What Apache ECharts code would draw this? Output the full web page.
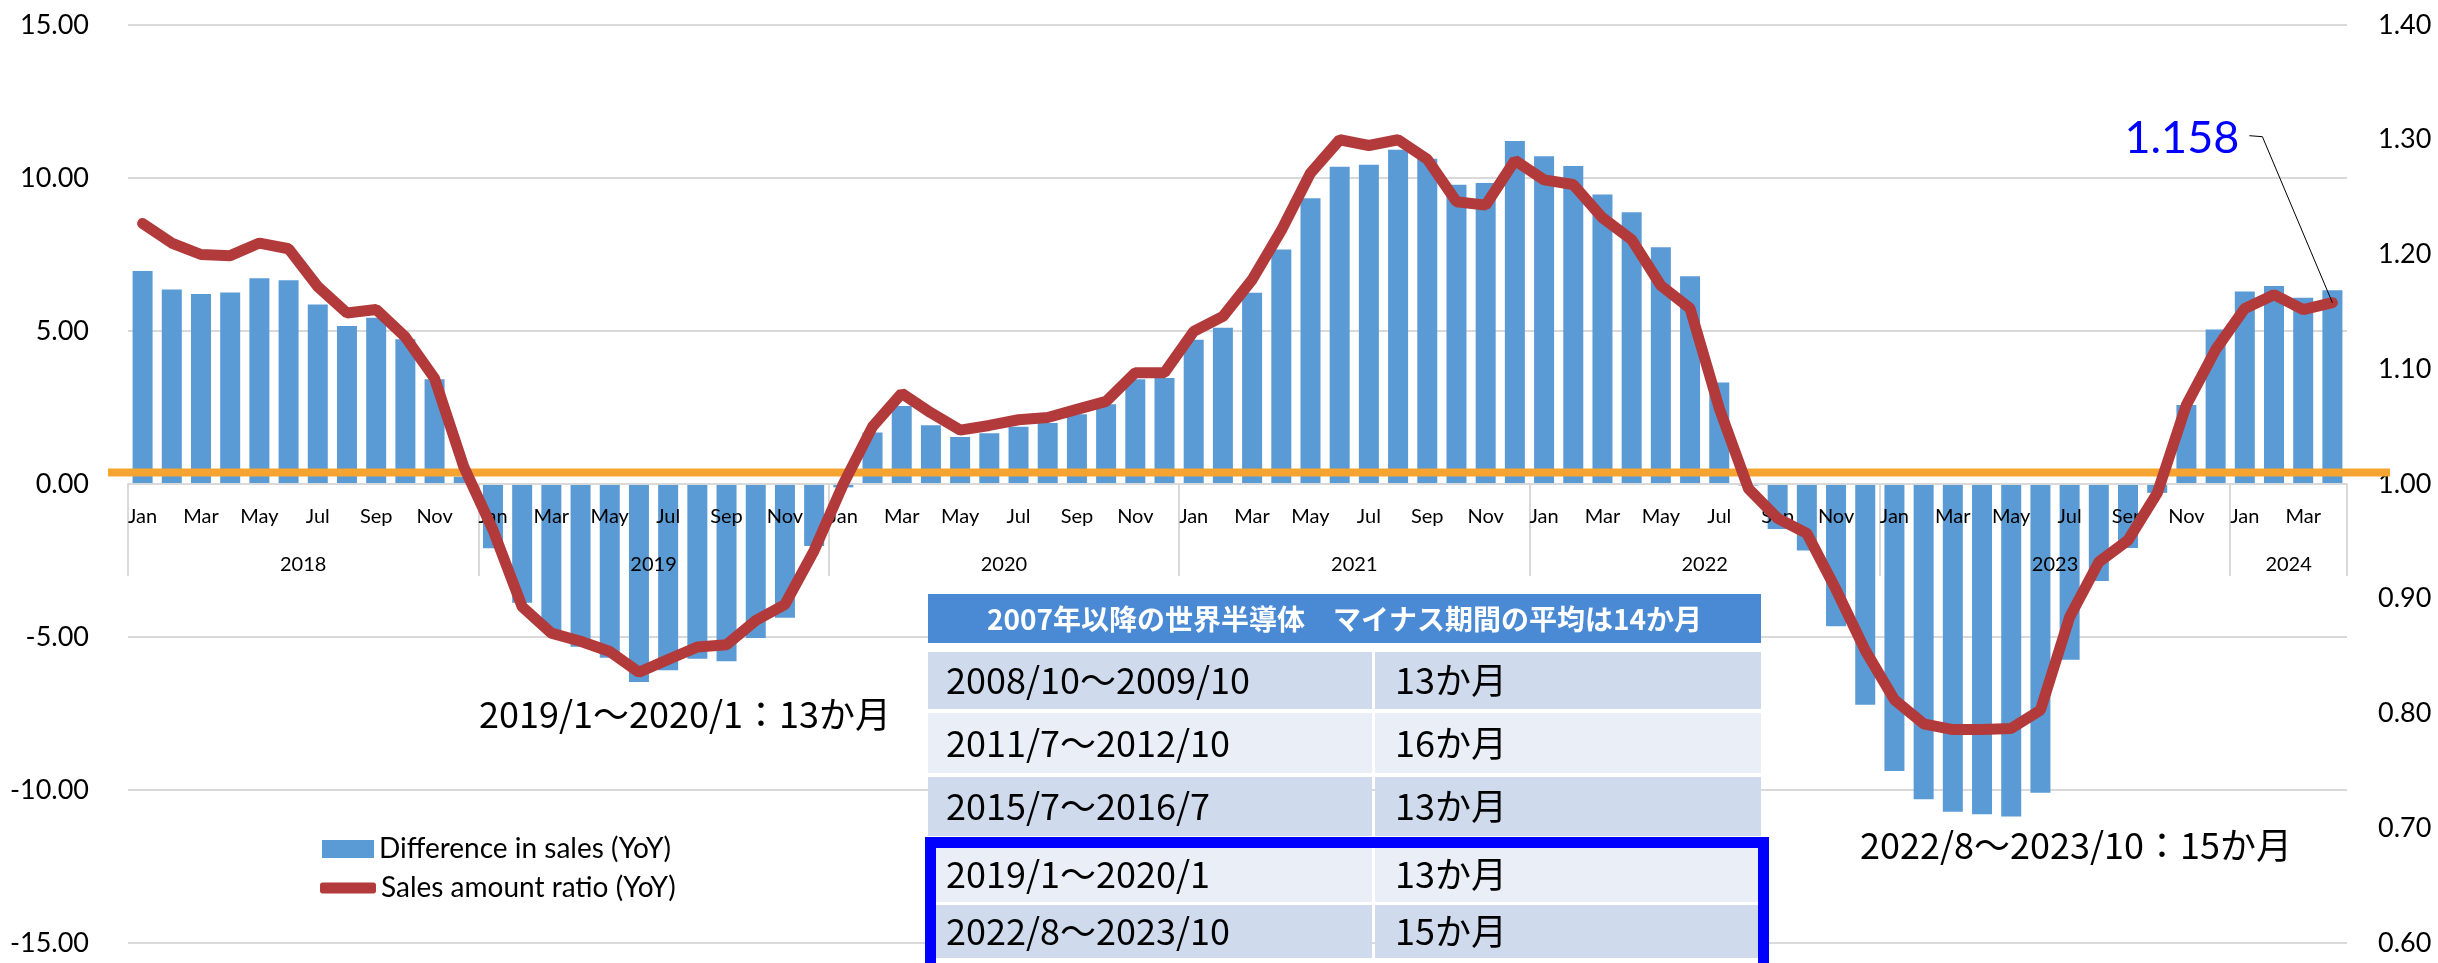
<!DOCTYPE html>
<html>
<head>
<meta charset="utf-8">
<script src="https://cdn.jsdelivr.net/npm/echarts@6/dist/echarts.min.js"></script>
<style>
  html, body { margin: 0; padding: 0; background: #fff; }
  #chart { width: 2438px; height: 963px; }
</style>
</head>
<body>
<div id="chart"></div>
<script>
const years = ['2018', '2019', '2020', '2021', '2022', '2023', '2024'];
const monthsPerYear = [12, 12, 12, 12, 12, 12, 4];
const monthNames = ['Jan', 'Feb', 'Mar', 'Apr', 'May', 'Jun', 'Jul', 'Aug', 'Sep', 'Oct', 'Nov', 'Dec'];

// Difference in sales (YoY), left axis
const salesDiff = [
  6.96, 6.36, 6.21, 6.26, 6.72, 6.66, 5.87, 5.16, 5.43, 4.73, 3.42, 0.24,
  -2.10, -3.88, -4.78, -5.32, -5.68, -6.47, -6.09, -5.71, -5.79, -5.03, -4.37, -2.03,
  -0.11, 1.68, 2.55, 1.92, 1.54, 1.66, 1.87, 1.99, 2.28, 2.61, 3.42, 3.46,
  4.71, 5.11, 6.25, 7.66, 9.34, 10.37, 10.43, 10.92, 10.63, 9.78, 9.84, 11.21,
  10.71, 10.39, 9.46, 8.88, 7.74, 6.79, 3.32, -0.05, -1.47, -2.17, -4.65, -7.21,
  -9.38, -10.30, -10.71, -10.79, -10.87, -10.09, -5.74, -3.17, -2.09, -0.29, 2.58, 5.05,
  6.29, 6.47, 6.09, 6.33
];

// Sales amount ratio (YoY), right axis
const salesRatio = [
  1.227, 1.210, 1.200, 1.199, 1.210, 1.205, 1.172, 1.149, 1.152, 1.128, 1.092, 1.015,
  0.960, 0.893, 0.870, 0.863, 0.854, 0.836, 0.847, 0.858, 0.860, 0.881, 0.895, 0.942,
  1.000, 1.050, 1.079, 1.062, 1.047, 1.051, 1.056, 1.058, 1.065, 1.072, 1.097, 1.097,
  1.133, 1.146, 1.178, 1.221, 1.271, 1.300, 1.295, 1.300, 1.283, 1.246, 1.243, 1.282,
  1.265, 1.261, 1.232, 1.213, 1.173, 1.153, 1.066, 0.996, 0.970, 0.957, 0.908, 0.855,
  0.812, 0.791, 0.786, 0.786, 0.787, 0.803, 0.884, 0.932, 0.951, 0.992, 1.069, 1.117,
  1.153, 1.165, 1.152, 1.158
];

const baseRatio = 1.01; // orange reference line
const lastLabel = '1.158';

const leftTicks = { min: -15, max: 15, interval: 5 };
const rightTicks = { min: 0.6, max: 1.4, interval: 0.1 };

const tableTitle = '2007年以降の世界半導体　マイナス期間の平均は14か月';
const tablePeriods = ['2008/10～2009/10', '2011/7～2012/10', '2015/7～2016/7', '2019/1～2020/1', '2022/8～2023/10'];
const tableLengths = ['13か月', '16か月', '13か月', '13か月', '15か月'];
const noteA = '2019/1～2020/1：13か月';
const noteB = '2022/8～2023/10：15か月';

const categories = [];
const yearCenters = {};
let start = 0;
years.forEach((y, k) => {
  for (let m = 0; m < monthsPerYear[k]; m++) categories.push(y + '-' + monthNames[m]);
  yearCenters[start + monthsPerYear[k] / 2] = y;
  start += monthsPerYear[k];
});

const LATO = 'Lato';
const JP = '"Noto Sans CJK JP"';
const BAR_NAME = 'Difference in sales (YoY)';
const LINE_NAME = 'Sales amount ratio (YoY)';

const chart = echarts.init(document.getElementById('chart'));

const tableX = 928, tableMid = 1374, tableR = 1761;
const rowTops = [652, 713, 777, 847, 905];
const rowHeights = [57, 60, 59, 55, 53];
const rowColors = ['#cfdaed', '#e9eef7', '#cfdaed', '#e9eef7', '#cfdaed'];

function tableGraphics() {
  const els = [];
  els.push({ type: 'rect', shape: { x: tableX, y: 594, width: tableR - tableX, height: 49 }, style: { fill: '#4a8ad4' }, z: 10 });
  els.push({ type: 'text', x: (tableX + tableR) / 2, y: 619, z: 11,
    style: { text: tableTitle, fill: '#fff', fontSize: 28, fontWeight: 'bold', fontFamily: JP, align: 'center', verticalAlign: 'middle' } });
  tablePeriods.forEach((p, i) => {
    els.push({ type: 'rect', shape: { x: tableX, y: rowTops[i], width: tableMid - 2 - tableX, height: rowHeights[i] }, style: { fill: rowColors[i] }, z: 10 });
    els.push({ type: 'rect', shape: { x: tableMid + 1, y: rowTops[i], width: tableR - tableMid - 1, height: rowHeights[i] }, style: { fill: rowColors[i] }, z: 10 });
    els.push({ type: 'text', x: 946, y: rowTops[i] + rowHeights[i] / 2, z: 11,
      style: { text: p, fill: '#000', fontSize: 36, fontFamily: JP, align: 'left', verticalAlign: 'middle' } });
    els.push({ type: 'text', x: 1395, y: rowTops[i] + rowHeights[i] / 2, z: 11,
      style: { text: tableLengths[i], fill: '#000', fontSize: 36, fontFamily: JP, align: 'left', verticalAlign: 'middle' } });
  });
  els.push({ type: 'rect', shape: { x: 930.5, y: 842.5, width: 833, height: 126 }, style: { fill: 'none', stroke: '#0000ff', lineWidth: 11 }, z: 12 });
  els.push({ type: 'text', x: 479, y: 714, z: 11,
    style: { text: noteA, fill: '#000', fontSize: 36, fontFamily: JP, align: 'left', verticalAlign: 'middle' } });
  els.push({ type: 'text', x: 1860, y: 845, z: 11,
    style: { text: noteB, fill: '#000', fontSize: 36, fontFamily: JP, align: 'left', verticalAlign: 'middle' } });
  return els;
}

const legendText = { fontSize: 28, fontFamily: LATO, color: '#000' };

chart.setOption({
  animation: false,
  backgroundColor: '#fff',
  grid: { left: 128, right: 91, top: 25, bottom: 20, containLabel: false, outerBoundsMode: 'none' },
  legend: [
    {
      left: 317, top: 830,
      itemWidth: 52, itemHeight: 18,
      textStyle: legendText,
      data: [{ name: BAR_NAME, icon: 'rect' }]
    },
    {
      left: 315, top: 869,
      itemWidth: 56, itemHeight: 11,
      textStyle: legendText,
      data: [{ name: LINE_NAME, icon: 'roundRect' }]
    }
  ],
  xAxis: [
    {
      type: 'category',
      position: 'bottom',
      z: 3,
      data: categories,
      axisLine: { onZero: false, lineStyle: { color: '#d9d9d9', width: 2 } },
      axisTick: { show: true, interval: (i) => i % 12 === 0, length: 92, lineStyle: { color: '#d9d9d9', width: 2 } },
      axisLabel: {
        interval: 1,
        margin: 23,
        fontSize: 20,
        fontFamily: LATO,
        color: '#000',
        formatter: (v) => v.split('-')[1]
      },
      splitLine: { show: false }
    },
    {
      type: 'value',
      position: 'bottom',
      z: 3,
      min: 0,
      max: categories.length,
      interval: 2,
      axisLine: { show: false, onZero: false },
      axisTick: { show: false },
      splitLine: { show: false },
      axisLabel: {
        margin: 71,
        fontSize: 20,
        fontFamily: LATO,
        color: '#000',
        formatter: (v) => yearCenters[v] || ''
      }
    }
  ],
  yAxis: [
    {
      type: 'value',
      min: leftTicks.min,
      max: leftTicks.max,
      interval: leftTicks.interval,
      axisLine: { show: false },
      axisTick: { show: false },
      splitLine: { lineStyle: { color: '#d9d9d9', width: 2 } },
      axisLabel: { margin: 39, fontSize: 27, fontFamily: LATO, color: '#000', formatter: (v) => v.toFixed(2) }
    },
    {
      type: 'value',
      min: rightTicks.min,
      max: rightTicks.max,
      interval: rightTicks.interval,
      axisLine: { show: false },
      axisTick: { show: false },
      splitLine: { show: false },
      axisLabel: { margin: 31, fontSize: 27, fontFamily: LATO, color: '#000', formatter: (v) => v.toFixed(2) }
    }
  ],
  series: [
    {
      name: BAR_NAME,
      type: 'bar',
      xAxisIndex: 0,
      yAxisIndex: 0,
      data: salesDiff,
      barWidth: 20,
      itemStyle: { color: '#5b9bd5' },
      z: 2
    },
    {
      name: LINE_NAME,
      type: 'line',
      xAxisIndex: 0,
      yAxisIndex: 1,
      data: salesRatio,
      symbol: 'none',
      lineStyle: { color: '#b33a3a', width: 11, cap: 'round' },
      itemStyle: { color: '#b33a3a' },
      z: 5
    }
  ],
  graphic: tableGraphics()
});

// move the category axes up to the zero line of the left axis
const gridBottom = 963 - 20;
const yZero = chart.convertToPixel({ yAxisIndex: 0 }, 0);
const axisShift = yZero - gridBottom;
chart.setOption({ xAxis: [{ offset: axisShift }, { offset: axisShift }] });

// reference line and last-value callout, placed through the axes
const yBase = chart.convertToPixel({ yAxisIndex: 1 }, baseRatio);
const lastPt = chart.convertToPixel({ seriesIndex: 1 }, [categories.length - 1, salesRatio[salesRatio.length - 1]]);
const extra = [
  { type: 'line', z: 3, shape: { x1: 108, y1: yBase, x2: 2390, y2: yBase }, style: { stroke: '#f5a431', lineWidth: 8 } },
  { type: 'polyline', z: 6, shape: { points: [[lastPt[0] - 83, lastPt[1] - 167], [lastPt[0] - 70, lastPt[1] - 166], [lastPt[0], lastPt[1]]] },
    style: { stroke: '#000', lineWidth: 1, fill: 'none' } },
  { type: 'text', z: 6, x: lastPt[0] - 93, y: lastPt[1] - 164,
    style: { text: lastLabel, fill: '#0000ff', fontSize: 45, fontFamily: LATO, align: 'right', verticalAlign: 'middle' } }
];
chart.setOption({ graphic: tableGraphics().concat(extra) });
</script>
</body>
</html>
